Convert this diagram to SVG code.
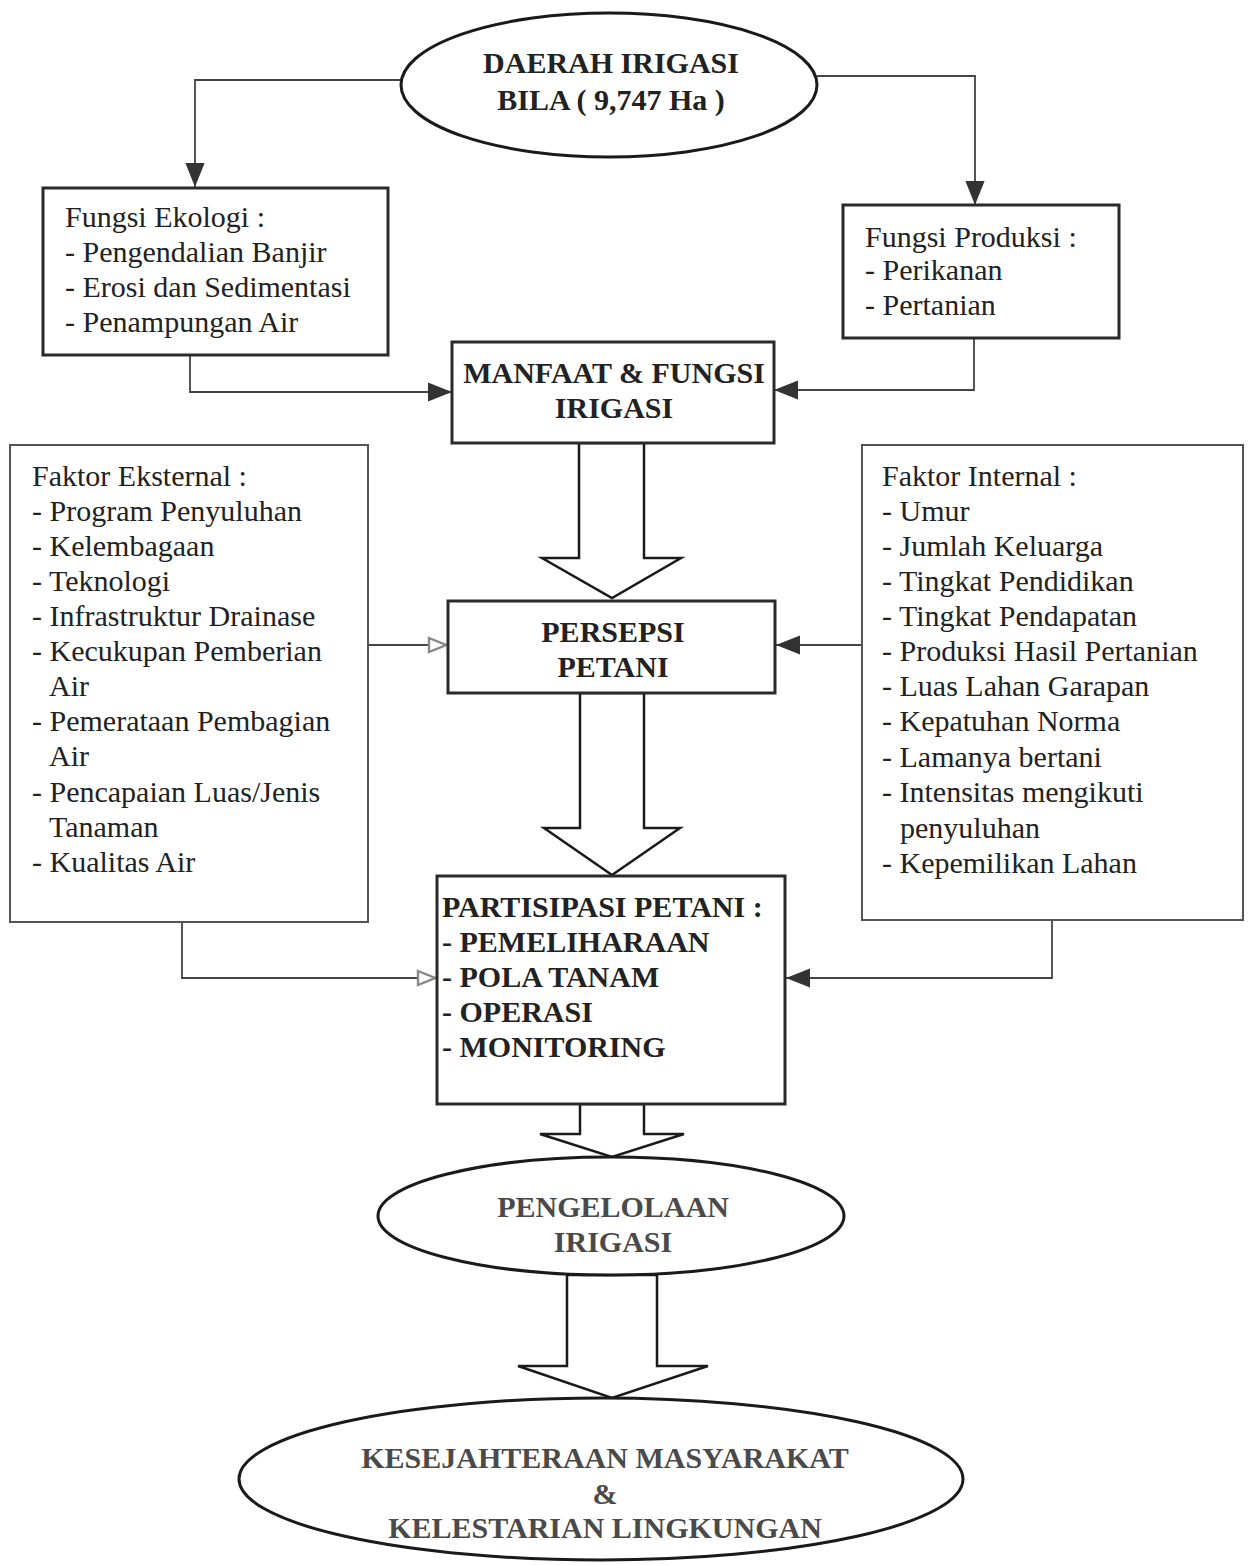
<svg xmlns="http://www.w3.org/2000/svg" width="1248" height="1565" viewBox="0 0 1248 1565">
<defs>
<style>
.bg{fill:#ffffff}
.box{fill:#ffffff;stroke:#2a2a2a;stroke-width:3}
.fbox{fill:#ffffff;stroke:#555555;stroke-width:2}
.ell{fill:#ffffff;stroke:#1a1a1a;stroke-width:3}
.conn{fill:none;stroke:#444444;stroke-width:1.8}
.block{fill:#ffffff;stroke:#1a1a1a;stroke-width:2.5;stroke-linejoin:miter}
.t{font-family:"Liberation Serif","Times New Roman",serif;font-size:30px;fill:#222222}
.b{font-family:"Liberation Serif","Times New Roman",serif;font-size:30px;font-weight:bold;fill:#222222}
.g{font-family:"Liberation Serif","Times New Roman",serif;font-size:30px;font-weight:bold;fill:#4a4a4a}
.c{text-anchor:middle}
</style>
<marker id="ahBig" viewBox="0 0 10 10" refX="10" refY="5" markerWidth="24" markerHeight="24" markerUnits="userSpaceOnUse" orient="auto">
<path d="M0,1 L10,5 L0,9 z" fill="#333333"/>
</marker>
<marker id="ahOpen" viewBox="0 0 10 10" refX="10" refY="5" markerWidth="20" markerHeight="20" markerUnits="userSpaceOnUse" orient="auto">
<path d="M1,1.5 L9.5,5 L1,8.5 z" fill="#ffffff" stroke="#888888" stroke-width="1.2"/>
</marker>
</defs>
<rect class="bg" x="0" y="0" width="1248" height="1565"/>

<g id="connectors">
<path class="conn" d="M401,80 H195 V187" marker-end="url(#ahBig)"/>
<path class="conn" d="M817,76 H975 V205" marker-end="url(#ahBig)"/>
<path class="conn" d="M190,355 V392 H452" marker-end="url(#ahBig)"/>
<path class="conn" d="M974,338 V390 H774" marker-end="url(#ahBig)"/>
<path class="conn" d="M363,645 H447" marker-end="url(#ahOpen)"/>
<path class="conn" d="M862,645 H776" marker-end="url(#ahBig)"/>
<path class="conn" d="M182,922 V978 H436" marker-end="url(#ahOpen)"/>
<path class="conn" d="M1052,920 V978 H786" marker-end="url(#ahBig)"/>
<polygon class="block" points="579,443 644,443 644,558 681,558 612,598 542,558 579,558"/>
<polygon class="block" points="580,693 644,693 644,828 680,828 612,875 544,828 580,828"/>
<polygon class="block" points="580,1104 644,1104 644,1134 684,1134 612,1157 540,1134 580,1134"/>
<polygon class="block" points="567,1275 657,1275 657,1366 708,1366 612,1398 518,1366 567,1366"/>
</g>

<g id="daerah-irigasi">
<ellipse class="ell" cx="609" cy="85" rx="208" ry="72"/>
<text class="b c" x="611" y="73">DAERAH IRIGASI</text>
<text class="b c" x="611" y="110">BILA ( 9,747 Ha )</text>
</g>

<g id="fungsi-ekologi">
<rect class="box" x="43" y="188" width="345" height="167"/>
<text class="t" x="65" y="227">Fungsi Ekologi :</text>
<text class="t" x="65" y="262">- Pengendalian Banjir</text>
<text class="t" x="65" y="297">- Erosi dan Sedimentasi</text>
<text class="t" x="65" y="332">- Penampungan Air</text>
</g>

<g id="fungsi-produksi">
<rect class="box" x="843" y="205" width="276" height="133"/>
<text class="t" x="865" y="247">Fungsi Produksi :</text>
<text class="t" x="865" y="280">- Perikanan</text>
<text class="t" x="865" y="315">- Pertanian</text>
</g>

<g id="manfaat-fungsi">
<rect class="box" x="452" y="342" width="322" height="101"/>
<text class="b c" x="614" y="383">MANFAAT &amp; FUNGSI</text>
<text class="b c" x="614" y="418">IRIGASI</text>
</g>

<g id="faktor-eksternal">
<rect class="fbox" x="10" y="445" width="358" height="477"/>
<text class="t" x="32" y="486">Faktor Eksternal :</text>
<text class="t" x="32" y="521">- Program Penyuluhan</text>
<text class="t" x="32" y="556">- Kelembagaan</text>
<text class="t" x="32" y="591">- Teknologi</text>
<text class="t" x="32" y="626">- Infrastruktur Drainase</text>
<text class="t" x="32" y="661">- Kecukupan Pemberian</text>
<text class="t" x="49" y="696">Air</text>
<text class="t" x="32" y="731">- Pemerataan Pembagian</text>
<text class="t" x="49" y="766">Air</text>
<text class="t" x="32" y="802">- Pencapaian Luas/Jenis</text>
<text class="t" x="49" y="837">Tanaman</text>
<text class="t" x="32" y="872">- Kualitas Air</text>
</g>

<g id="faktor-internal">
<rect class="fbox" x="862" y="445" width="381" height="475"/>
<text class="t" x="882" y="486">Faktor Internal :</text>
<text class="t" x="882" y="521">- Umur</text>
<text class="t" x="882" y="556">- Jumlah Keluarga</text>
<text class="t" x="882" y="591">- Tingkat Pendidikan</text>
<text class="t" x="882" y="626">- Tingkat Pendapatan</text>
<text class="t" x="882" y="661">- Produksi Hasil Pertanian</text>
<text class="t" x="882" y="696">- Luas Lahan Garapan</text>
<text class="t" x="882" y="731">- Kepatuhan Norma</text>
<text class="t" x="882" y="767">- Lamanya bertani</text>
<text class="t" x="882" y="802">- Intensitas mengikuti</text>
<text class="t" x="900" y="838">penyuluhan</text>
<text class="t" x="882" y="873">- Kepemilikan Lahan</text>
</g>

<g id="persepsi-petani">
<rect class="box" x="448" y="601" width="327" height="92"/>
<text class="b c" x="613" y="642">PERSEPSI</text>
<text class="b c" x="613" y="677">PETANI</text>
</g>

<g id="partisipasi-petani">
<rect class="box" x="437" y="876" width="348" height="228"/>
<text class="b" x="442" y="917">PARTISIPASI PETANI :</text>
<text class="b" x="442" y="952">- PEMELIHARAAN</text>
<text class="b" x="442" y="987">- POLA TANAM</text>
<text class="b" x="442" y="1022">- OPERASI</text>
<text class="b" x="442" y="1057">- MONITORING</text>
</g>

<g id="pengelolaan-irigasi">
<ellipse class="ell" cx="611" cy="1216" rx="233" ry="59"/>
<text class="g c" x="613" y="1217">PENGELOLAAN</text>
<text class="g c" x="613" y="1252">IRIGASI</text>
</g>

<g id="kesejahteraan">
<ellipse class="ell" cx="601" cy="1479" rx="362" ry="81"/>
<text class="g c" x="605" y="1468">KESEJAHTERAAN MASYARAKAT</text>
<text class="g c" x="605" y="1504">&amp;</text>
<text class="g c" x="605" y="1538">KELESTARIAN LINGKUNGAN</text>
</g>
</svg>
